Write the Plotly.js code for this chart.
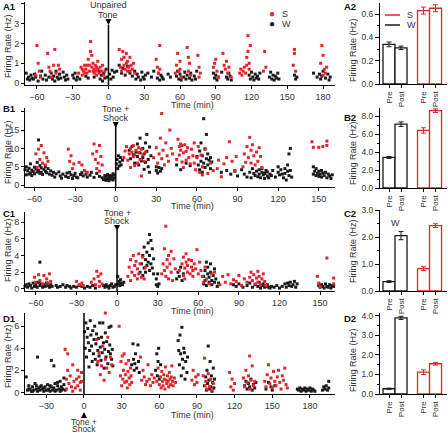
<!DOCTYPE html>
<html><head><meta charset="utf-8">
<script src="https://cdn.plot.ly/plotly-3.0.1.min.js"></script>
<style>html,body{margin:0;padding:0;background:#fff;}#chart{width:448px;height:433px;}</style>
</head><body><div id="chart"></div>
<script>
// ---------- DATA: [time (min), firing rate (Hz)] ----------
const A1_W = [[-69,0.5],[-68,0.2],[-67,0.3],[-66,0.15],[-65,0.4],[-64,0.25],[-63,0.2],[-62,0.45],[-61,0.3],[-59,0.1],
[-57,0.35],[-56,0.6],[-55,0.2],[-53,0.4],[-52,0.15],[-50,0.3],[-48,0.5],[-47,0.2],[-46,0.35],[-45,0.1],
[-44,0.6],[-43,0.3],[-42,0.2],[-41,0.45],[-40,0.25],[-38,0.55],[-37,0.3],[-36,0.15],[-35,0.4],[-34,0.2],
[-30,0.4],[-29,0.25],[-28,0.5],[-27,0.15],[-26,0.3],[-24,0.2],[-19,0.35],[-17,0.25],[-12,0.3],[-8,0.6],
[-7,0.2],[-6,0.4],[-5,0.1],[-4,0.5],[-3,0.25],[-2,0.7],[-1,0.3],[1,0.45],[2,0.2],[3,0.65],
[4,0.3],[5,0.55],[7,0.6],[9,0.9],[11,0.5],[12,0.75],[14,0.4],[16,0.85],[18,0.5],[20,0.35],
[22,0.6],[23,0.2],[24,0.45],[25,0.3],[27,0.15],[28,0.55],[29,0.3],[30,0.2],[31,0.4],[33,0.5],
[36,0.3],[38,0.6],[41,0.25],[42,0.5],[43,0.15],[44,0.4],[45,0.3],[46,0.2],[50,0.45],[52,0.3],
[57,0.35],[58,0.6],[59,0.2],[60,0.45],[61,0.15],[63,0.3],[64,0.55],[65,0.2],[66,0.4],[68,0.25],
[69,0.5],[70,0.15],[72,0.35],[73,0.2],[74,0.6],[88,0.5],[89,0.25],[90,0.4],[91,0.15],[92,0.3],
[95,0.55],[99,0.3],[100,0.2],[101,0.5],[102,0.35],[103,0.15],[118,0.4],[119,0.2],[120,0.55],[121,0.3],
[122,0.15],[123,0.45],[124,0.25],[125,0.35],[126,0.2],[127,0.5],[135,0.3],[136,0.55],[137,0.2],[138,0.4],
[139,0.15],[140,0.35],[141,0.25],[142,0.5],[143,0.2],[156,0.4],[157,0.2],[158,0.3],[172,0.5],[175,0.3],
[177,0.45],[178,0.2],[179,0.35],[180,0.6],[182,0.25],[184,0.45],[185,0.15],[186,0.3]];
const A1_S = [[-61,0.4],[-60,1.9],[-59,1.0],[-58,0.6],[-57,0.3],
[-51,1.5],[-50,0.8],[-49,0.6],[-48,0.3],[-46,0.9],[-45,1.7],[-44,0.5],[-42,0.9],[-41,0.7],
[-25,0.5],[-23,0.8],[-22,0.4],[-22,0.7],[-21,0.6],[-20,0.9],[-20,0.5],[-19,0.7],[-18,0.5],[-18,0.9],[-17,1.2],[-16,0.6],[-16,0.9],
[-15,2.1],[-15,1.6],[-14,0.8],[-14,1.4],[-13,0.6],[-13,1.0],[-12,0.7],[-12,0.5],[-11,0.9],[-11,0.6],[-10,0.8],[-10,0.4],
[-9,0.7],[-9,1.1],[-8,0.5],[-7,0.8],[-6,0.6],[-5,0.9],[-4,0.4],[-3,0.6],
[9,1.7],[10,0.8],[11,1.2],[11,0.6],[12,1.6],[13,0.9],[13,1.3],[14,0.7],[15,1.5],[15,1.0],[16,0.6],[16,1.1],
[17,0.8],[18,1.3],[18,0.6],[19,0.9],[20,0.7],[21,1.0],[22,0.5],
[40,1.2],[41,0.8],[42,0.5],[43,1.9],[43,0.7],
[56,0.5],[57,0.9],[58,1.5],[59,0.6],[60,1.1],[60,0.7],[61,0.3],
[66,1.8],[67,0.6],[67,1.3],[68,1.0],[69,0.4],
[75,1.4],[76,0.8],[76,0.3],[77,0.5],
[88,0.8],[89,1.0],[90,1.2],[91,0.6],[92,0.3],
[96,1.5],[97,0.9],[98,0.7],[99,1.1],[100,0.5],[101,0.8],[103,0.3],
[110,0.5],[111,0.7],[112,0.4],[113,0.6],[114,0.8],[115,0.5],[116,1.3],[116,0.9],[117,2.4],[117,1.6],[118,1.0],[118,0.7],[119,1.9],
[130,0.6],[131,1.6],[132,0.8],
[155,0.9],[156,1.7],[156,1.5],[157,0.6],
[178,1.0],[179,1.9],[180,1.4],[180,0.4],[181,0.7],[182,0.5],[183,0.8]];

const B1_W = [[-68,3.5],[-67,4.2],[-66,2.8],[-66,5.0],[-65,3.9],[-64,3.0],[-64,4.6],[-63,5.8],[-63,3.3],[-62,4.1],
[-62,2.6],[-61,3.7],[-60,4.9],[-60,3.1],[-59,4.4],[-58,3.6],[-58,6.2],[-57,12.3],[-57,4.0],[-56,3.2],
[-56,5.3],[-55,4.7],[-55,3.5],[-54,2.9],[-53,4.3],[-52,3.8],[-52,5.1],[-51,3.4],[-50,4.5],[-49,3.0],
[-48,3.9],[-47,2.7],[-46,3.5],[-45,2.2],[-44,3.1],[-42,3.6],[-41,2.5],[-40,1.9],[-39,3.0],[-37,2.4],
[-36,3.3],[-35,2.1],[-34,3.5],[-33,2.8],[-32,1.8],[-31,2.6],[-30,3.2],[-29,2.2],[-28,2.0],[-26,2.9],
[-25,3.4],[-24,2.5],[-23,4.0],[-22,3.0],[-21,2.2],[-19,2.7],[-18,3.5],[-16,2.1],[-14,3.2],[-12,2.4],
[-10,2.0],[-9,1.5],[-8,2.6],[-8,1.8],[-7,2.3],[-7,1.3],[-6,2.9],[-6,1.7],[-5,2.2],[-5,1.2],
[-4,1.9],[-4,2.6],[-3,1.6],[-3,2.4],[-2,1.4],[-2,3.1],[-1,2.0],[-1,2.8],
[0.5,5.8],[1,7.0],[1.5,4.5],[2,8.0],[2.5,5.2],[3,6.3],[3.5,7.5],[4,5.5],[5,6.8],
[10,9.5],[11,7.2],[12,10.5],[13,8.3],[14,6.0],[15,9.0],[16,11.2],[16,7.8],[17,5.5],[18,8.8],
[18,12.8],[19,6.6],[20,10.0],[20,7.5],[21,4.3],[21,8.5],[22,11.5],[22,6.2],[23,13.8],[23,9.2],
[24,7.0],[24,5.0],[25,10.4],[25,3.5],[26,8.0],
[30,5.0],[30,4.0],[31,3.3],[32,4.8],[33,3.8],[34,4.5],
[45,5.5],[48,4.2],[52,6.0],[55,5.3],
[60,7.8],[61,5.5],[62,9.3],[62,4.2],[63,6.5],[63,11.5],[64,8.0],[64,3.5],[65,18.1],[65,6.0],
[66,9.8],[66,4.8],[67,7.2],[67,13.8],[68,5.5],[68,8.5],[69,6.8],[70,7.5],[70,4.5],[71,6.3],
[78,3.5],[82,4.0],[85,3.0],[88,3.8],[90,2.5],[93,4.2],[95,3.0],[97,2.2],[99,3.5],[100,2.0],
[101,4.5],[102,3.2],[103,2.6],[104,3.8],[105,2.3],[106,4.2],[106,3.0],[107,2.0],[108,3.5],[108,4.5],
[109,2.8],[110,3.2],[110,1.8],[111,4.0],[112,2.5],[112,3.6],[113,2.0],[114,3.0],[115,2.6],[116,4.0],
[118,2.2],[120,3.5],[120,5.0],[121,2.8],[122,4.2],[123,3.0],[124,2.0],[125,4.5],[125,3.2],[126,1.4],
[127,5.5],[127,3.8],[128,8.5],[128,2.6],[129,10.0],[129,4.0],[130,2.2],
[146,5.0],[146,3.0],[147,3.8],[148,2.6],[148,4.5],[149,3.2],[150,2.4],[150,3.8],[151,3.0],[152,2.2],
[152,4.0],[153,3.3],[154,2.6],[155,3.5],[156,2.0],[157,3.0],[158,2.5],[159,1.8],[160,2.8]];
const B1_S = [[-59,8.5],[-58,4.8],[-57,9.8],[-56,7.0],[-55,10.8],[-54,6.0],[-53,8.8],[-52,5.5],[-51,7.5],[-50,6.5],
[-35,9.8],[-34,6.5],[-33,8.0],[-32,4.5],[-31,5.8],[-27,6.2],[-25,5.5],[-23,4.0],[-21,3.5],
[-17,8.5],[-16,11.2],[-15,7.0],[-14,4.5],[-14,9.2],[-13,6.0],[-12,10.8],[-12,3.8],[-11,7.8],[-10,5.5],
[6,7.5],[7,9.3],[8,10.5],[9,6.8],[10,8.5],[11,4.8],[11,10.0],[12,9.0],[13,7.8],[13,10.8],
[14,8.2],[14,5.3],[15,9.5],[16,6.0],[17,8.8],[17,10.2],[18,7.0],[19,9.8],[19,2.5],[20,8.2],[21,6.5],[22,9.0],
[28,7.5],[30,10.2],[31,6.0],[32,8.5],[33,12.8],[34,19.5],[34,7.2],[35,9.5],[36,5.5],[37,11.5],
[38,8.0],[39,6.5],[40,15.0],[41,10.0],[42,8.5],
[45,7.0],[46,12.5],[47,10.5],[47,8.2],[48,11.2],[48,9.5],[49,6.3],[49,10.8],[50,8.8],[50,4.8],
[51,11.0],[52,9.2],[52,6.8],[53,10.2],[54,7.5],[55,5.8],[56,9.8],[57,8.0],[58,6.0],[58,11.5],[59,4.2],[60,7.5],
[61,10.5],[62,3.5],[63,8.2],[64,5.0],[64,2.8],[66,10.0],[68,3.2],[70,6.0],[72,4.0],
[75,4.5],[76,6.8],[78,2.3],[80,5.8],[82,7.5],[84,11.8],[86,6.5],[88,4.0],[89,7.8],
[94,5.0],[95,8.5],[96,6.2],[97,10.5],[98,7.5],[99,13.0],[100,9.5],[100,6.0],[101,11.0],[102,8.0],
[103,5.5],[104,9.0],[105,6.5],[106,10.2],[107,7.8],[108,4.8],
[145,11.8],[146,10.3],[150,10.3],[153,10.5],[156,12.0],[156,10.8]];

const C1_W = [[-68,0.3],[-67,0.5],[-66,0.2],[-65,0.6],[-64,0.4],[-63,0.1],[-62,0.7],[-61,0.3],[-60,0.5],[-59,0.2],
[-58,0.8],[-57,3.2],[-57,0.4],[-56,0.6],[-55,0.2],[-54,0.5],[-53,0.3],[-52,0.7],[-51,0.4],[-50,0.2],[-49,0.5],[-48,0.3],
[-45,0.4],[-44,0.2],[-42,0.3],[-40,0.5],[-38,0.2],[-37,0.4],[-35,0.3],[-34,0.1],[-32,0.3],[-30,0.2],
[-28,0.4],[-26,0.3],[-24,0.1],[-22,0.3],[-20,0.2],[-18,0.4],[-16,0.1],
[-10,0.4],[-9,0.2],[-8,0.5],[-7,0.3],[-6,0.1],[-5,0.4],[-4,0.6],[-3,0.2],[-2,0.3],[-1,0.5],
[0.5,1.5],[1,0.6],[1.5,0.9],[2,0.4],[2.5,1.1],[3,0.7],[4,0.5],[5,0.8],
[17,2.0],[18,3.0],[19,1.6],[19,4.0],[20,2.5],[20,5.0],[21,3.5],[21,2.0],[22,4.4],[22,2.8],
[23,5.5],[23,3.2],[24,6.5],[24,4.0],[24,2.2],[25,5.8],[25,3.0],[26,4.8],[26,2.5],[27,3.6],[27,1.8],
[29,1.2],[29,0.5],[30,0.3],[30,1.8],[31,0.6],
[44,1.2],[45,2.0],[46,1.5],[47,2.6],[48,1.0],[49,1.8],
[64,1.5],[64,0.6],[65,2.2],[65,1.0],[66,3.2],[66,0.4],[67,1.8],[67,2.6],[68,0.8],[68,1.4],
[69,2.0],[69,3.0],[70,1.0],[70,0.5],[71,1.6],[72,2.4],[72,0.8],[73,1.2],[74,0.3],[75,0.7],
[86,0.5],[88,0.3],[90,0.6],[93,0.2],[96,0.4],[98,0.7],[100,0.2],[102,0.5],[104,0.3],[105,0.8],
[106,0.1],[107,0.4],[108,0.6],[109,0.2],[110,0.3],[111,0.5],[112,0.2],[113,0.1],[114,0.3],[116,0.2],
[118,0.4],[120,0.1],[122,0.3],[124,0.6],[125,0.2],[126,0.7],[127,0.4],[128,0.8],[129,0.3],[130,0.5],
[131,0.9],[132,0.2],[133,0.6],
[149,0.4],[150,0.2],[151,0.5],[152,0.3],[153,0.1],[154,0.6],[155,0.3],[156,0.2],[157,0.5],[158,0.1],[159,0.4],[160,0.3]];
const C1_S = [[-61,1.4],[-60,0.8],[-58,1.7],[-57,1.0],[-55,0.6],[-54,1.6],[-52,1.2],[-51,0.7],[-50,1.8],[-49,0.9],
[-30,0.9],[-28,0.5],[-26,0.7],[-25,0.4],
[-19,0.8],[-17,1.2],[-16,0.5],[-15,2.1],[-14,1.5],[-13,0.9],[-13,0.3],[-12,1.8],[-11,0.6],
[8,1.5],[9,2.6],[10,3.5],[10,1.0],[11,2.0],[12,4.0],[13,1.6],[13,2.8],[14,3.3],[15,1.2],
[15,2.4],[16,4.2],[16,1.8],[17,3.0],[18,1.4],[19,3.8],[20,1.2],[21,2.6],
[33,1.8],[34,3.0],[35,4.8],[35,2.2],[36,7.5],[36,1.5],[37,3.5],[37,2.6],[38,4.0],[38,1.2],
[39,3.0],[40,2.0],[40,4.5],[41,1.0],[42,3.6],[43,2.4],
[46,2.2],[48,3.0],[49,1.6],[49,3.8],[50,2.5],[50,1.2],[51,3.2],[51,4.2],[52,2.0],[52,2.8],
[53,3.5],[54,1.8],[55,2.6],[55,3.4],[56,1.5],[56,2.2],[57,3.0],[58,2.4],[59,4.7],[60,1.8],[61,3.2],
[62,2.2],[63,1.5],[64,0.8],[65,2.6],[66,1.2],[68,0.6],[70,1.8],[72,2.0],
[76,0.5],[78,1.5],[80,0.8],[82,1.7],[84,0.6],[86,1.1],[88,0.9],[90,1.6],[92,0.4],[94,1.2],
[96,0.8],[98,1.4],[99,2.0],[100,1.0],[101,1.7],[102,0.6],[103,1.3],[104,2.1],[104,0.8],[105,1.5],
[106,0.5],[107,1.2],[108,1.8],[109,0.9],[110,0.4],
[148,1.5],[149,0.7],[150,0.3],[155,3.7],[160,0.6],[160,1.3]];

const D1_W = [[-46,1.4],[-45,0.2],[-44,0.6],[-44,0.3],[-43,0.3],[-42,0.1],[-41,0.5],[-41,0.1],[-40,0.2],[-39,0.8],
[-38,0.3],[-38,0.6],[-37,3.2],[-37,0.1],[-36,0.4],[-35,0.2],[-35,0.5],[-34,0.6],[-33,0.3],[-32,0.1],
[-32,0.4],[-31,0.5],[-30,0.2],[-29,0.7],[-29,0.2],[-28,0.3],[-27,0.1],[-27,0.6],[-26,2.9],[-26,0.5],
[-25,0.2],[-24,2.4],[-24,0.4],[-23,0.8],[-23,0.1],[-22,0.2],[-21,0.6],[-21,0.9],[-20,0.3],[-19,1.0],
[-19,0.1],[-18,0.5],[-18,0.2],[-17,0.3],[-16,1.3],[-16,0.7],[-15,0.2],
[0.5,5.5],[1,4.0],[1.5,6.3],[2,3.2],[2.5,5.0],[3,5.8],[3.5,4.5],[4,2.3],[4.5,3.8],[5,6.5],
[5.5,5.2],[6,4.2],[6.5,2.8],[7,5.6],[7.5,3.5],[8,4.8],[8.5,6.0],[9,3.0],[9.5,4.4],[10,5.3],
[10.5,2.5],[11,3.8],[11.5,4.9],[12,3.3],[12.5,6.3],[13,4.1],[13.5,2.9],[14,5.0],[14.5,3.6],[15,6.3],
[15.5,4.5],[16,2.2],[16.5,3.9],[17,5.4],[17.5,3.2],[18,4.6],[19,2.6],[19.5,3.7],[20,5.9],[20.5,4.3],
[21,3.5],[21.5,6.0],[22,3.0],[22.5,3.9],[23,2.4],
[38,2.5],[39,4.4],[39.5,3.0],[40,2.0],[40.5,2.6],[41,3.5],[42,2.2],[43,4.3],[43.5,2.8],[44,1.8],
[57,2.0],[58,3.5],[58.5,1.5],[59,2.8],[59.5,4.0],[60,1.2],[61,2.5],
[75,4.7],[75.5,3.8],[76,2.5],[76.5,5.2],[77,3.5],[77.5,1.5],[78,5.9],[78.5,3.0],[79,2.2],[79.5,4.0],
[80,3.6],[80.5,1.2],[81,2.8],[82,1.8],[82.5,3.2],
[96,0.6],[97,1.4],[97.5,0.2],[98,2.0],[98.5,0.8],[99,4.2],[99.5,1.1],[100,0.3],[100.5,2.8],[101,0.5],
[101.5,1.5],[102,0.1],[102.5,0.9],[103,2.2],[103.5,0.4],[104,1.2],
[128,0.6],[129,1.0],[130,0.3],[131,0.8],[132,0.5],[133,1.2],[134,0.2],[135,0.7],[136,0.4],[137,0.9],
[145,0.3],[147,0.9],[149,0.5],[150,0.2],[152,0.6],
[170,0.3],[171,0.2],[172,0.4],[173,0.1],[174,0.3],[175,0.2],[176,0.4],[177,0.1],[178,0.3],[179,0.2],
[180,0.4],[181,0.1],[182,0.3],[183,0.2],[184,0.1],
[190,0.2],[191,0.5],[192,0.3],[193,0.6],[194,0.2],[195,1.0],[195,0.4]];
const D1_S = [[-15,3.9],[-14,1.2],[-14,0.3],[-13,3.5],[-13,2.0],[-12,0.8],[-11,1.5],[-10,0.5],[-9,2.5],[-9,0.1],
[-8,1.0],[-7,0.4],[-6,1.2],[-5,2.0],[-5,0.6],[-4,1.4],[-3,0.2],[-3,0.9],[-2,1.8],[-2,1.0],
[10,4.8],[11,2.8],[12,3.6],[13,1.6],[14,2.4],[15,4.2],[16,1.1],[17,7.2],[17,3.0],[18,2.2],
[19,5.0],[20,1.8],[21,3.2],[22,2.5],
[28,6.0],[29,1.5],[29.5,2.8],[30,0.6],[30.5,3.3],[31,1.2],[31.5,2.0],[32,3.5],[32.5,0.9],[33,1.6],
[33.5,2.6],[34,1.0],[34.5,0.4],[35,1.9],[35.5,2.9],[36,1.3],[36.5,0.7],[37,2.2],[37.5,1.5],[38,0.9],
[45,3.2],[46,1.1],[47,2.0],[48,1.4],[49,0.7],[50,1.0],[51,2.5],[52,1.2],[53,0.6],[54,1.6],[55,0.9],[56,1.3],
[58,1.0],[59,2.2],[60,0.7],[61,1.4],[61.5,0.4],[62,1.9],[62.5,1.0],[63,0.6],[63.5,1.6],[64,1.2],
[64.5,0.3],[65,2.3],[65.5,1.1],[66,0.8],[66.5,1.5],[67,1.0],[67.5,0.5],[68,1.8],[68.5,1.2],[69,0.7],
[69.5,1.4],[70,2.4],[70.5,1.0],[71,0.6],[72,1.3],[73,0.9],
[86,1.1],[87,2.0],[88,0.7],[89,1.4],[90,0.9],[91,1.6],
[95,1.5],[96,3.1],[96.5,0.6],[97,1.0],[98,0.3],[99,1.7],[100,0.5],[101,1.2],[102,0.2],[103,0.8],
[116,1.8],[117,0.5],[118,1.2],[119,0.2],[120,0.8],
[127,1.3],[128,0.5],[129,2.0],[130,0.9],[131,1.5],[132,3.3],[132.5,0.3],[133,1.1],[134,2.4],[135,0.6],[136,1.0],
[144,1.0],[145,0.5],[146,1.6],[147,2.5],[148,0.8],[149,1.3],[150,0.4],[151,1.9],[152,1.0],[153,0.6],
[154,1.4],[155,2.0],[156,0.9],[157,0.3],[158,1.5],[159,1.1],[160,2.2],[161,0.7],[162,0.4]];

// Bar summaries (Pre, Post)
const barLabels = ['Pre','Post','Pre','Post'];
const A2_W = [0.34, 0.31], A2_W_err = [0.02, 0.015];
const A2_S = [0.63, 0.65], A2_S_err = [0.03, 0.03];
const B2_W = [3.4, 7.1],  B2_W_err = [0.1, 0.25];
const B2_S = [6.4, 8.6],  B2_S_err = [0.3, 0.2];
const C2_W = [0.35, 2.05], C2_W_err = [0.03, 0.15];
const C2_S = [0.83, 2.42], C2_S_err = [0.07, 0.07];
const D2_W = [0.27, 3.9], D2_W_err = [0.03, 0.08];
const D2_S = [1.12, 1.55], D2_S_err = [0.12, 0.07];

// ---------- STYLE / LAYOUT ----------
const W = 448, H = 433;
const RED = '#e3242b', BLK = '#1a1a1a', TXT = '#333';
const FONT = 'Liberation Sans, Arial, sans-serif';
const EVENT = 0;
const posW = [0, 1], posS = [2.875, 3.875];

const xd = (a,b) => [a/W, b/W];
const yd = (top,bot) => [1-bot/H, 1-top/H];

const traces = [];
function scat(pts, color, xa, ya){
  traces.push({type:'scatter', mode:'markers', x: pts.map(p=>p[0]), y: pts.map(p=>p[1]),
    xaxis: xa, yaxis: ya, marker:{symbol:'square', size:3, color: color, line:{width:0}},
    hoverinfo:'skip', showlegend:false, cliponaxis:false});
}
function bars(pos, vals, errs, color, xa, ya){
  traces.push({type:'bar', x: pos, y: vals, width: 1, xaxis: xa, yaxis: ya,
    marker:{color:'#fff', line:{color: color, width:1.3}},
    error_y:{type:'data', array: errs, visible:true, color: color, thickness:1, width:2.5},
    hoverinfo:'skip', showlegend:false});
}
scat(A1_W, BLK, 'x', 'y');  scat(A1_S, RED, 'x', 'y');
scat(B1_W, BLK, 'x3', 'y3'); scat(B1_S, RED, 'x3', 'y3');
scat(C1_W, BLK, 'x5', 'y5'); scat(C1_S, RED, 'x5', 'y5');
scat(D1_W, BLK, 'x7', 'y7'); scat(D1_S, RED, 'x7', 'y7');
bars(posW, A2_W, A2_W_err, BLK, 'x2', 'y2'); bars(posS, A2_S, A2_S_err, RED, 'x2', 'y2');
bars(posW, B2_W, B2_W_err, BLK, 'x4', 'y4'); bars(posS, B2_S, B2_S_err, RED, 'x4', 'y4');
bars(posW, C2_W, C2_W_err, BLK, 'x6', 'y6'); bars(posS, C2_S, C2_S_err, RED, 'x6', 'y6');
bars(posW, D2_W, D2_W_err, BLK, 'x8', 'y8'); bars(posS, D2_S, D2_S_err, RED, 'x8', 'y8');

const base = {showline:true, linecolor:'#000', linewidth:1, ticks:'outside', ticklen:3, tickwidth:1,
  tickcolor:'#000', tickfont:{size:9, color:TXT, family:FONT}, showgrid:false, zeroline:false, fixedrange:true};
const LPX = [25, 335], RPX = [380, 447];
const L = xd(LPX[0], LPX[1]), R = xd(RPX[0], RPX[1]);
function tx(range, anchor){ return Object.assign({}, base, {domain:L, range:range, anchor:anchor, dtick:30, tick0:0}); }
function ty(dom, range, anchor, extra){ return Object.assign({}, base, {domain:dom, range:range, anchor:anchor}, extra||{}); }
function bx(anchor){ return Object.assign({}, base, {domain:R, range:[-0.75, 4.83], anchor:anchor,
  tickvals: posW.concat(posS), ticktext: barLabels, tickangle:-90, tickfont:{size:8, color:TXT, family:FONT}}); }
function by(dom, range, anchor, dt, mdt){ return Object.assign({}, base, {domain:dom, range:range, anchor:anchor,
  ticklen:4, dtick:dt, tick0:0, tickformat:'.1f', tickfont:{size:8.5, color:TXT, family:FONT},
  minor:{dtick:mdt, tick0:0, ticks:'outside', ticklen:2, tickcolor:'#000'}}); }

const rangeA1 = [-70, 190], rangeB1 = [-67, 162], rangeC1 = [-68, 161], rangeD1 = [-47, 200];
const layout = {
  width: W, height: H, margin:{l:0, r:0, t:0, b:0}, paper_bgcolor:'#fff', plot_bgcolor:'rgba(0,0,0,0)',
  font:{family:FONT, color:TXT, size:9}, showlegend:false,
  xaxis: tx(rangeA1, 'y'),
  yaxis: ty(yd(2, 85), [-0.1, 4.1], 'x', {dtick:1, tick0:0}),
  xaxis3: tx(rangeB1, 'y3'),
  yaxis3: ty(yd(108, 187), [-0.5, 21], 'x3', {tickvals:[0,5,10,15,20], ticktext:['0','5','10','15','']}),
  xaxis5: tx(rangeC1, 'y5'),
  yaxis5: ty(yd(212, 291), [-0.25, 9.2], 'x5', {dtick:2, tick0:0}),
  xaxis7: tx(rangeD1, 'y7'),
  yaxis7: ty(yd(313, 394), [-0.15, 7.2], 'x7', {dtick:2, tick0:0}),
  xaxis2: bx('y2'), yaxis2: by(yd(3, 84), [0, 0.695], 'x2', 0.2, 0.1),
  xaxis4: bx('y4'), yaxis4: by(yd(108, 188), [0, 8.9], 'x4', 2, 1),
  xaxis6: bx('y6'), yaxis6: by(yd(210, 291), [0, 3.0], 'x6', 1, 0.5),
  xaxis8: bx('y8'), yaxis8: by(yd(313, 394), [0, 4.15], 'x8', 1, 0.5),
  shapes: [], annotations: []
};

function ann(text, xpx, ypx, o){
  layout.annotations.push(Object.assign({xref:'paper', yref:'paper', x:xpx/W, y:1-ypx/H, text:text,
    showarrow:false, xanchor:'center', yanchor:'middle', font:{size:9, color:TXT, family:FONT}}, o||{}));
}
function evAnn(text, xa, ypx, o){
  layout.annotations.push(Object.assign({xref:xa, yref:'paper', x:EVENT, y:1-ypx/H, text:text,
    showarrow:false, xanchor:'center', yanchor:'middle', font:{size:9, color:TXT, family:FONT}}, o||{}));
}
function evLine(xa, ya, y0, y1){
  layout.shapes.push({type:'line', xref:xa, yref:ya, x0:EVENT, x1:EVENT, y0:y0, y1:y1, line:{color:'#000', width:1.5}});
}
function evTri(xa, range, yTip, yBase){
  const h = 3 * (range[1]-range[0]) / (LPX[1]-LPX[0]);
  const yt = 1 - yTip/H, yb = 1 - yBase/H;
  layout.shapes.push({type:'path', xref:xa, yref:'paper',
    path:`M ${EVENT-h} ${yb} L ${EVENT+h} ${yb} L ${EVENT} ${yt} Z`, fillcolor:'#000', line:{width:0}});
}

// Panel labels
const bold = {font:{size:9.5, color:'#111', family:FONT}, xanchor:'left'};
ann('<b>A1</b>', 1, 6, bold); ann('<b>B1</b>', 1, 108, bold); ann('<b>C1</b>', 1, 213, bold); ann('<b>D1</b>', 1, 318, bold);
ann('<b>A2</b>', 342, 6, bold); ann('<b>B2</b>', 342, 117, bold); ann('<b>C2</b>', 342, 213, bold); ann('<b>D2</b>', 342, 318, bold);

// Axis titles
const ytl = {textangle:-90};
ann('Firing Rate (Hz)', 8, 46, ytl); ann('Firing Rate (Hz)', 8, 152, ytl);
ann('Firing Rate (Hz)', 8, 250, ytl); ann('Firing Rate (Hz)', 8, 356, ytl);
ann('Firing Rate (Hz)', 353, 50, ytl); ann('Firing Rate (Hz)', 353, 153, ytl);
ann('Firing Rate (Hz)', 353, 251, ytl); ann('Firing Rate (Hz)', 353, 360, ytl);
ann('Time (min)', 192, 105); ann('Time (min)', 192, 206); ann('Time (min)', 192, 311); ann('Time (min)', 192, 415);

// Event markers
evLine('x', 'y', -0.1, 2.95);
evAnn('Unpaired', 'x', 5.5); evAnn('Tone', 'x', 15);
evTri('x', rangeA1, 25, 19);
evLine('x3', 'y3', -0.5, 16.1);
evAnn('Tone +', 'x3', 109); evAnn('Shock', 'x3', 118);
evTri('x3', rangeB1, 128, 122);
evLine('x5', 'y5', -0.25, 7.05);
evAnn('Tone +', 'x5', 213); evAnn('Shock', 'x5', 221.5);
evTri('x5', rangeC1, 231, 225);
evLine('x7', 'y7', -0.15, 7.2);
evTri('x7', rangeD1, 412, 418);
evAnn('Tone +', 'x7', 421.5, {font:{size:8.5, color:TXT, family:FONT}});
evAnn('Shock', 'x7', 428.5, {font:{size:8.5, color:TXT, family:FONT}});

// Legends
ann('●', 272, 14, {font:{size:10, color:RED}}); ann('S', 280, 14, {xanchor:'left'});
ann('●', 272, 24, {font:{size:10, color:BLK}}); ann('W', 280, 24, {xanchor:'left'});
layout.shapes.push({type:'line', xref:'paper', yref:'paper', x0:385/W, x1:400/W, y0:1-15/H, y1:1-15/H, line:{color:RED, width:1.5}});
layout.shapes.push({type:'line', xref:'paper', yref:'paper', x0:385/W, x1:400/W, y0:1-25/H, y1:1-25/H, line:{color:BLK, width:1.5}});
ann('S', 405, 15, {xanchor:'left'}); ann('W', 405, 25, {xanchor:'left'});
ann('W', 395, 223);

Plotly.newPlot('chart', traces, layout, {staticPlot:true, displayModeBar:false});
</script></body></html>
